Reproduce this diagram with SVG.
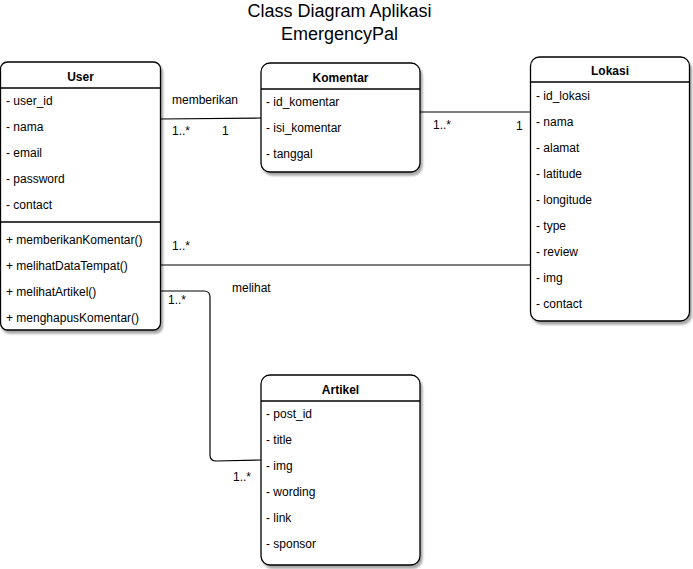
<svg xmlns="http://www.w3.org/2000/svg" width="693" height="569" viewBox="0 0 693 569">
<defs>
<filter id="sh" x="-10%" y="-10%" width="130%" height="130%">
<feGaussianBlur in="SourceAlpha" stdDeviation="1.2"/>
<feOffset dx="2" dy="3" result="b"/>
<feComponentTransfer><feFuncA type="linear" slope="0.35"/></feComponentTransfer>
<feMerge><feMergeNode/><feMergeNode in="SourceGraphic"/></feMerge>
</filter>
</defs>
<style>
text{font-family:"Liberation Sans",Arial,sans-serif;font-size:12px;fill:#000}
.t{font-weight:bold;text-anchor:middle}
.h{font-size:18px;text-anchor:middle}
.box{fill:#fff;stroke:#000;stroke-width:1.3}
.sep{stroke:#000;stroke-width:1.3}
.c{fill:none;stroke:#000;stroke-width:1.2}
</style>
<rect width="693" height="569" fill="#fff"/>
<text class="h" x="339.5" y="17">Class Diagram Aplikasi</text>
<text class="h" x="339.5" y="40">EmergencyPal</text>

<g id="connectors">
<path class="c" d="M160 119 L261 118"/>
<path class="c" d="M420 112 L530 112"/>
<path class="c" d="M160 265 L530 265"/>
<path class="c" d="M160 291 L204 291 Q210 291 210 297 L210 455 Q210 461 216 461 L261 460"/>
<text x="172" y="104">memberikan</text>
<text x="172" y="135">1..*</text>
<text x="222" y="135">1</text>
<text x="433" y="129">1..*</text>
<text x="516" y="130">1</text>
<text x="172" y="250">1..*</text>
<text x="232" y="292">melihat</text>
<text x="168" y="304">1..*</text>
<text x="233" y="481">1..*</text>
</g>

<g id="user">
<rect class="box" filter="url(#sh)" x="0.5" y="62" width="160" height="268" rx="7"/>
<line class="sep" x1="0.5" y1="88" x2="160.5" y2="88"/>
<line class="sep" x1="0.5" y1="222" x2="160.5" y2="222"/>
<text class="t" x="80.5" y="81">User</text>
<text x="6" y="105">- user_id</text>
<text x="6" y="131">- nama</text>
<text x="6" y="157">- email</text>
<text x="6" y="183">- password</text>
<text x="6" y="209">- contact</text>
<text x="6" y="244">+ memberikanKomentar()</text>
<text x="6" y="270">+ melihatDataTempat()</text>
<text x="6" y="296">+ melihatArtikel()</text>
<text x="6" y="322">+ menghapusKomentar()</text>
</g>

<g id="komentar">
<rect class="box" filter="url(#sh)" x="261" y="63" width="159" height="109" rx="9"/>
<line class="sep" x1="261" y1="89" x2="420" y2="89"/>
<text class="t" x="340.5" y="82">Komentar</text>
<text x="266" y="106">- id_komentar</text>
<text x="266" y="132">- isi_komentar</text>
<text x="266" y="158">- tanggal</text>
</g>

<g id="lokasi">
<rect class="box" filter="url(#sh)" x="530.5" y="57" width="159" height="264" rx="9"/>
<line class="sep" x1="530.5" y1="82" x2="689.5" y2="82"/>
<text class="t" x="610" y="75">Lokasi</text>
<text x="536" y="100">- id_lokasi</text>
<text x="536" y="126">- nama</text>
<text x="536" y="152">- alamat</text>
<text x="536" y="178">- latitude</text>
<text x="536" y="204">- longitude</text>
<text x="536" y="230">- type</text>
<text x="536" y="256">- review</text>
<text x="536" y="282">- img</text>
<text x="536" y="308">- contact</text>
</g>

<g id="artikel">
<rect class="box" filter="url(#sh)" x="261" y="375" width="159" height="190" rx="9"/>
<line class="sep" x1="261" y1="401" x2="420" y2="401"/>
<text class="t" x="340.5" y="394">Artikel</text>
<text x="266" y="418">- post_id</text>
<text x="266" y="444">- title</text>
<text x="266" y="470">- img</text>
<text x="266" y="496">- wording</text>
<text x="266" y="522">- link</text>
<text x="266" y="548">- sponsor</text>
</g>
</svg>
